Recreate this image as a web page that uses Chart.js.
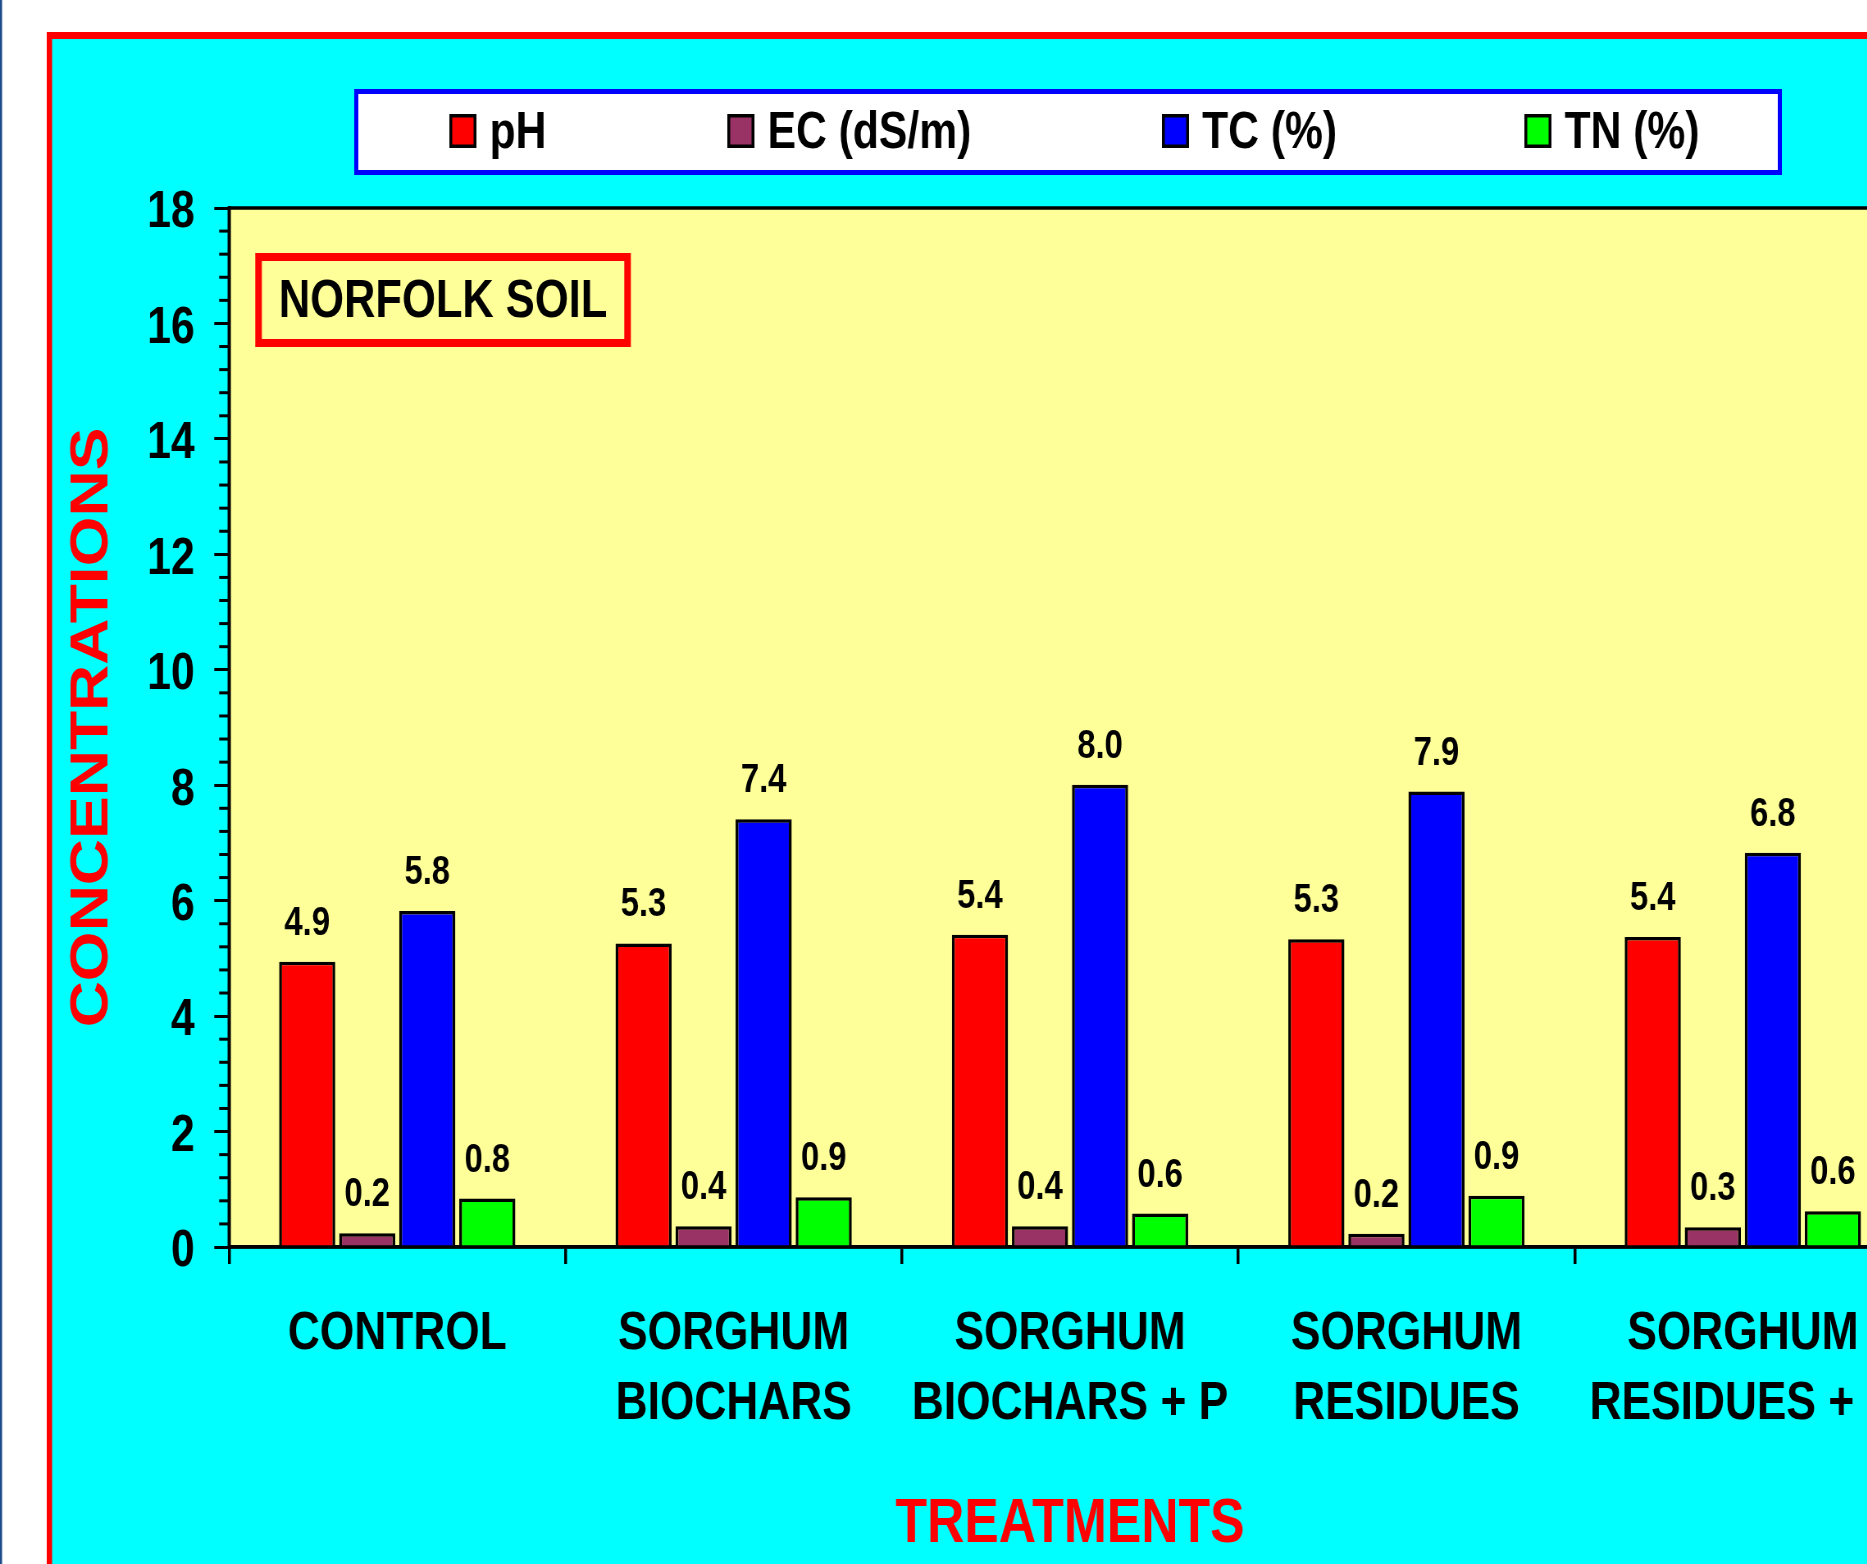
<!DOCTYPE html>
<html><head><meta charset="utf-8">
<script src="https://cdn.jsdelivr.net/npm/chart.js@4"></script>
<style>
html,body{margin:0;padding:0;background:#fff;overflow:hidden;width:1867px;height:1564px;}
#wrap{position:absolute;left:0;top:0;width:1867px;height:1564px;overflow:hidden;}
#c{position:absolute;left:0;top:0;transform:scaleX(0.82);transform-origin:0 0;}
</style></head><body>
<div id="wrap"><canvas id="c" width="2420" height="1564"></canvas></div>
<script>
// ---- data ----
const categories = [
  ['CONTROL'],
  ['SORGHUM', 'BIOCHARS'],
  ['SORGHUM', 'BIOCHARS + P'],
  ['SORGHUM', 'RESIDUES'],
  ['SORGHUM', 'RESIDUES + P']
];
const seriesNames = ['pH', 'EC (dS/m)', 'TC (%)', 'TN (%)'];
const pH = [4.94, 5.26, 5.41, 5.33, 5.37];
const EC = [0.24, 0.36, 0.36, 0.23, 0.34];
const TC = [5.82, 7.41, 8.01, 7.89, 6.83];
const TN = [0.84, 0.86, 0.58, 0.89, 0.62];
const yTicks = [0, 2, 4, 6, 8, 10, 12, 14, 16, 18];
const panelLabel = 'NORFOLK SOIL';
const xTitle = 'TREATMENTS';
const yTitle = 'CONCENTRATIONS';

// ---- styles ----
const FONT = '"Liberation Sans", Arial, Helvetica, sans-serif';
const seriesColors = ['#ff0000', '#993366', '#0000ff', '#00ff00'];
const W = 2420, H = 1564;

const framePlugin = {
  id: 'frame',
  beforeDraw(chart) {
    const ctx = chart.ctx, a = chart.chartArea;
    ctx.save();
    ctx.fillStyle = '#ffffff'; ctx.fillRect(0, 0, W, H);
    ctx.fillStyle = '#1f4a8a'; ctx.fillRect(0, 0, 2.5, H);
    // outer red frame with cyan fill
    ctx.fillStyle = '#ff0000'; ctx.fillRect(57, 32, W - 80, H);
    ctx.fillStyle = '#00ffff'; ctx.fillRect(63.5, 39, W - 93, H);
    // plot background
    ctx.fillStyle = '#ffff99';
    ctx.fillRect(a.left, a.top, a.right - a.left, a.bottom - a.top);
    ctx.strokeStyle = '#000'; ctx.lineWidth = 3.5;
    ctx.strokeRect(a.left, a.top, a.right - a.left, a.bottom - a.top);
    // legend box
    ctx.fillStyle = '#ffffff'; ctx.fillRect(432, 89, 1741, 86);
    ctx.strokeStyle = '#0000ff'; ctx.lineWidth = 5;
    ctx.strokeRect(434.5, 91.5, 1736, 81);
    const itemX = [548, 887, 1417, 1859];
    chart.data.datasets.forEach((ds, i) => {
      const x = itemX[i];
      ctx.fillStyle = ds.backgroundColor;
      ctx.fillRect(x, 114, 33, 34);
      ctx.strokeStyle = '#000'; ctx.lineWidth = 3.5;
      ctx.strokeRect(x + 1.75, 115.75, 29.5, 30.5);
      ctx.fillStyle = '#000';
      ctx.font = 'bold 52px ' + FONT;
      ctx.textAlign = 'left'; ctx.textBaseline = 'middle';
      ctx.fillText(ds.label, x + 49, 134);
    });
    // panel label box
    const bx = a.left + 32, by = a.top + 45, bw = 458, bh = 94;
    ctx.strokeStyle = '#ff0000'; ctx.lineWidth = 8;
    ctx.strokeRect(bx + 4, by + 4, bw - 8, bh - 8);
    ctx.fillStyle = '#000';
    ctx.font = 'bold 53px ' + FONT;
    ctx.textAlign = 'center'; ctx.textBaseline = 'middle';
    ctx.fillText(panelLabel, bx + bw / 2, by + bh / 2 + 2.5);
    ctx.restore();
  },
  afterDraw(chart) {
    const ctx = chart.ctx, a = chart.chartArea, ys = chart.scales.y;
    ctx.save();
    // minor ticks on y axis
    ctx.strokeStyle = '#000'; ctx.lineWidth = 3;
    const n = Math.round((ys.max - ys.min) / 0.4);
    for (let i = 0; i <= n; i++) {
      if (i % 5 === 0) continue;
      const py = ys.getPixelForValue(ys.min + i * 0.4);
      ctx.beginPath(); ctx.moveTo(a.left - 12, py); ctx.lineTo(a.left, py); ctx.stroke();
    }
    // value labels
    ctx.fillStyle = '#000';
    ctx.font = 'bold 40px ' + FONT;
    ctx.textAlign = 'center'; ctx.textBaseline = 'alphabetic';
    chart.data.datasets.forEach((ds, di) => {
      const meta = chart.getDatasetMeta(di);
      meta.data.forEach((el, i) => {
        ctx.fillText(ds.data[i].toFixed(1), el.x, el.y - 27);
      });
    });
    ctx.restore();
  }
};

const seriesData = [pH, EC, TC, TN];
new Chart(document.getElementById('c'), {
  type: 'bar',
  data: {
    labels: categories,
    datasets: seriesData.map((d, i) => ({
      label: seriesNames[i],
      data: d,
      backgroundColor: seriesColors[i],
      borderColor: '#000',
      borderWidth: 3.5,
      categoryPercentage: 0.714,
      barPercentage: 0.935
    }))
  },
  options: {
    responsive: false,
    devicePixelRatio: 1,
    animation: false,
    events: [],
    layout: { padding: { top: 208, left: 0, right: 89.5, bottom: 0 } },
    plugins: { legend: { display: false }, tooltip: { enabled: false } },
    scales: {
      x: {
        offset: true,
        grid: { offset: true, drawOnChartArea: false, tickLength: 17, lineWidth: 3.5, color: '#000' },
        border: { display: true, color: '#000', width: 3.5 },
        ticks: {
          autoSkip: false, maxRotation: 0, minRotation: 0, padding: 36, color: '#000',
          font: { family: FONT, size: 54, weight: 'bold', lineHeight: 1.28 }
        },
        title: {
          display: true, text: xTitle, color: '#ff0000',
          font: { family: FONT, size: 63, weight: 'bold', lineHeight: 1.2 },
          padding: { top: 0, bottom: 2 }
        },
        afterFit(s) { s.height = 317; }
      },
      y: {
        min: 0, max: 18,
        afterBuildTicks(s) { s.ticks = yTicks.map(v => ({ value: v })); },
        grid: { drawOnChartArea: false, tickLength: 18, lineWidth: 3, color: '#000' },
        border: { display: true, color: '#000', width: 3.5 },
        ticks: {
          padding: 24, color: '#000', labelOffset: 5,
          font: { family: FONT, size: 52, weight: 'bold' }
        },
        title: {
          display: true, text: yTitle, color: '#ff0000',
          font: { family: FONT, size: 64, weight: 'bold', lineHeight: 1.2 },
          padding: { top: 75, bottom: 0 }
        },
        afterFit(s) { s.width = 279.3; }
      }
    }
  },
  plugins: [framePlugin]
});
</script>
</body></html>
